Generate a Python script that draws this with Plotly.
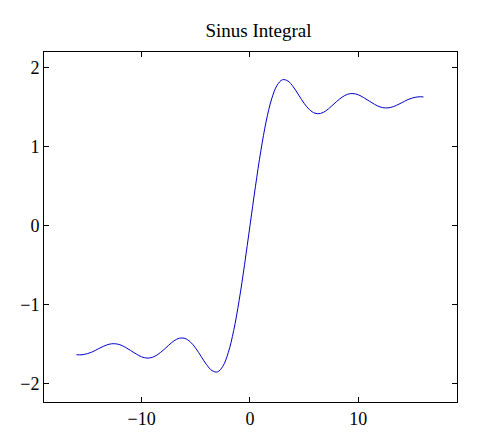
import plotly.graph_objects as go

x_pos = [0, 0.5, 1, 1.5, 2, 2.5, 3, 3.5, 4, 4.5, 5, 5.5, 6, 6.5, 7, 7.5, 8, 8.5,
         9, 9.5, 10, 10.5, 11, 11.5, 12, 12.5, 13, 13.5, 14, 14.5, 15, 15.5, 16]
si_pos = [0, 0.493, 0.946, 1.325, 1.605, 1.778, 1.849, 1.833, 1.758, 1.654, 1.550,
          1.469, 1.425, 1.422, 1.455, 1.512, 1.574, 1.628, 1.665, 1.674, 1.658,
          1.622, 1.579, 1.537, 1.505, 1.492, 1.499, 1.524, 1.557, 1.593, 1.618,
          1.632, 1.632]
x_neg = [-16, -15.5, -15, -14.5, -14, -13.5, -13, -12.5, -12, -11.5, -11, -10.5,
         -10, -9.5, -9, -8.5, -8, -7.5, -7, -6.5, -6, -5.5, -5, -4.5, -4, -3.5,
         -3, -2.5, -2, -1.5, -1, -0.5]
si_neg = [-1.632, -1.632, -1.618, -1.593, -1.557, -1.524, -1.499, -1.492, -1.505,
          -1.537, -1.579, -1.622, -1.658, -1.674, -1.665, -1.628, -1.574, -1.512,
          -1.455, -1.422, -1.425, -1.469, -1.550, -1.654, -1.758, -1.833, -1.849,
          -1.778, -1.605, -1.325, -0.946, -0.493]
xs = x_neg + x_pos
ys = si_neg + si_pos

fig = go.Figure(go.Scatter(x=xs, y=ys, mode="lines",
                           line=dict(color="#0000cc", width=1, shape="spline")))
ax = dict(showgrid=False, zeroline=False, showline=True, mirror="ticks",
          linecolor="black", linewidth=1, ticks="inside", ticklen=5,
          tickcolor="black")
fig.update_layout(
    width=501, height=442, plot_bgcolor="white", paper_bgcolor="white",
    margin=dict(l=26, r=52, t=44, b=48), showlegend=False,
    font=dict(family="Liberation Serif, serif", size=18, color="black"),
    title=dict(text="Sinus Integral", x=0.5, xanchor="center", y=0.965,
               font=dict(family="Liberation Serif, serif", size=19)),
    xaxis=dict(range=[-19.0, 19.1], tickvals=[-10, 0, 10],
               ticktext=["\u221210", "0", "10"], **ax),
    yaxis=dict(range=[-2.23, 2.2], tickvals=[-2, -1, 0, 1, 2],
               ticktext=["\u22122", "\u22121", "0", "1", "2"], **ax),
)
fig.write_html("out.html")
